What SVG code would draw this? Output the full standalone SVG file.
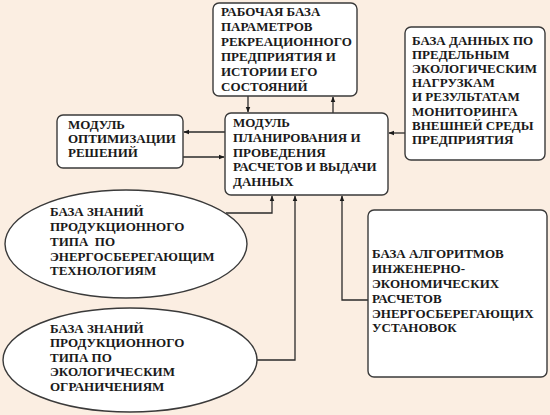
<svg xmlns="http://www.w3.org/2000/svg" width="550" height="415" viewBox="0 0 550 415">
<defs>
<style>
.n{fill:#fff;stroke:#3a3a3a;stroke-width:1.4}
.t{font-family:'Liberation Serif',serif;font-weight:bold;font-size:13px;fill:#1a1a1a}
.c{fill:none;stroke:#2a2a2a;stroke-width:1.3}
</style>
<marker id="a" viewBox="0 0 10 10" refX="9" refY="5" markerWidth="6" markerHeight="6" orient="auto" markerUnits="userSpaceOnUse">
<path d="M0,1 L10,5 L0,9 Z" fill="#1a1a1a"/>
</marker>
</defs>
<rect width="550" height="415" fill="#fbeee2"/>
<g id="connectors">
<line class="c" x1="248" y1="96" x2="248" y2="112" marker-end="url(#a)"/>
<line class="c" x1="333" y1="113" x2="333" y2="97" marker-end="url(#a)"/>
<line class="c" x1="405" y1="133" x2="389" y2="133" marker-end="url(#a)"/>
<line class="c" x1="225" y1="132" x2="184" y2="132" marker-end="url(#a)"/>
<line class="c" x1="183" y1="157" x2="224" y2="157" marker-end="url(#a)"/>
<polyline class="c" points="226,213 272,213 272,196" marker-end="url(#a)"/>
<polyline class="c" points="257,360 295,360 295,196" marker-end="url(#a)"/>
<polyline class="c" points="368,300 342,300 342,196" marker-end="url(#a)"/>
</g>
<g id="work-db">
<rect class="n" x="213" y="3" width="144" height="93" rx="6"/>
<text class="t" x="221" y="16">РАБОЧАЯ БАЗА</text>
<text class="t" x="221" y="31">ПАРАМЕТРОВ</text>
<text class="t" x="221" y="46">РЕКРЕАЦИОННОГО</text>
<text class="t" x="221" y="61">ПРЕДПРИЯТИЯ И</text>
<text class="t" x="221" y="76">ИСТОРИИ ЕГО</text>
<text class="t" x="221" y="91">СОСТОЯНИЙ</text>
</g>
<g id="eco-db">
<rect class="n" x="405" y="27" width="140" height="133" rx="6"/>
<text class="t" x="412" y="45">БАЗА ДАННЫХ ПО</text>
<text class="t" x="412" y="59">ПРЕДЕЛЬНЫМ</text>
<text class="t" x="412" y="73">ЭКОЛОГИЧЕСКИМ</text>
<text class="t" x="412" y="87">НАГРУЗКАМ</text>
<text class="t" x="412" y="101">И РЕЗУЛЬТАТАМ</text>
<text class="t" x="412" y="116">МОНИТОРИНГА</text>
<text class="t" x="412" y="130">ВНЕШНЕЙ СРЕДЫ</text>
<text class="t" x="412" y="144">ПРЕДПРИЯТИЯ</text>
</g>
<g id="optimization">
<rect class="n" x="57" y="115" width="126" height="53" rx="6"/>
<text class="t" x="68" y="129">МОДУЛЬ</text>
<text class="t" x="68" y="143">ОПТИМИЗАЦИИ</text>
<text class="t" x="68" y="157">РЕШЕНИЙ</text>
</g>
<g id="planning">
<rect class="n" x="225" y="113" width="163" height="82" rx="6"/>
<text class="t" x="233" y="127">МОДУЛЬ</text>
<text class="t" x="233" y="142">ПЛАНИРОВАНИЯ И</text>
<text class="t" x="233" y="157">ПРОВЕДЕНИЯ</text>
<text class="t" x="233" y="171">РАСЧЕТОВ И ВЫДАЧИ</text>
<text class="t" x="233" y="186">ДАННЫХ</text>
</g>
<g id="kb-energy">
<ellipse class="n" cx="126" cy="244" rx="121" ry="54"/>
<text class="t" x="50" y="216">БАЗА ЗНАНИЙ</text>
<text class="t" x="50" y="231">ПРОДУКЦИОННОГО</text>
<text class="t" x="50" y="246" xml:space="preserve">ТИПА  ПО</text>
<text class="t" x="50" y="261">ЭНЕРГОСБЕРЕГАЮЩИМ</text>
<text class="t" x="50" y="275">ТЕХНОЛОГИЯМ</text>
</g>
<g id="kb-eco">
<ellipse class="n" cx="130" cy="360" rx="127" ry="52"/>
<text class="t" x="50" y="333">БАЗА ЗНАНИЙ</text>
<text class="t" x="50" y="347">ПРОДУКЦИОННОГО</text>
<text class="t" x="50" y="362">ТИПА ПО</text>
<text class="t" x="50" y="376">ЭКОЛОГИЧЕСКИМ</text>
<text class="t" x="50" y="391">ОГРАНИЧЕНИЯМ</text>
</g>
<g id="algorithms">
<rect class="n" x="368" y="210" width="179" height="167" rx="6"/>
<text class="t" x="372" y="258">БАЗА АЛГОРИТМОВ</text>
<text class="t" x="372" y="273">ИНЖЕНЕРНО-</text>
<text class="t" x="372" y="288">ЭКОНОМИЧЕСКИХ</text>
<text class="t" x="372" y="303">РАСЧЕТОВ</text>
<text class="t" x="372" y="318">ЭНЕРГОСБЕРЕГАЮЩИХ</text>
<text class="t" x="372" y="332">УСТАНОВОК</text>
</g>
</svg>
